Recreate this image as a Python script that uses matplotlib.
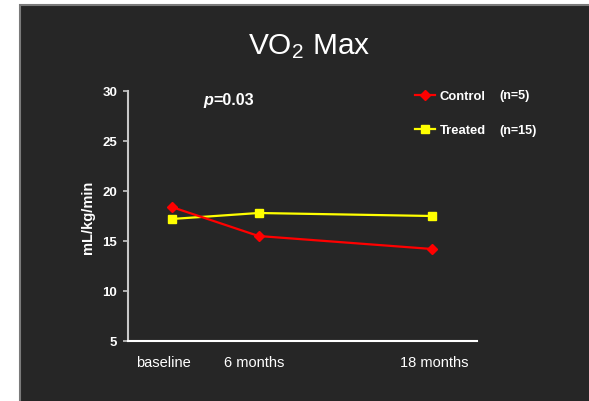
#!/usr/bin/env python3
"""VO2 Max over time, control vs treated"""

import matplotlib
matplotlib.use('Agg')
import matplotlib.pyplot as plt
import matplotlib.transforms as mtransforms
from matplotlib.patches import Rectangle

plt.rcParams['font.family'] = ['Liberation Sans', 'DejaVu Sans']
plt.rcParams['mathtext.fontset'] = 'custom'
plt.rcParams['mathtext.rm'] = 'Liberation Sans'
plt.rcParams['mathtext.it'] = 'Liberation Sans:italic'
plt.rcParams['mathtext.bf'] = 'Liberation Sans:bold'

# data
months = [0, 6, 18]
tick_labels = ['baseline', '6 months', '18 months']
control = [18.4, 15.5, 14.2]
treated = [17.2, 17.8, 17.5]
series_names = ['Control', 'Treated']
group_sizes = ['(n=5)', '(n=15)']
p_value = '0.03'

W, H = 589, 402
BG = '#262626'

fig = plt.figure(figsize=(W / 100, H / 100), dpi=100, facecolor='white')

# dark slide panel with grey top/left edge
fig.patches.append(Rectangle((20 / W, -0.1), 1.2, 1.1 - 6 / H, transform=fig.transFigure,
                             facecolor=BG, edgecolor='#7a7a7a', linewidth=1.5, zorder=-5))

ax = fig.add_axes([128 / W, 60 / H, 349 / W, 250 / H])
ax.set_facecolor('none')

ax.plot(months, control, color='#ff0000', lw=1.6, marker='D', ms=5.5,
        label=series_names[0], zorder=3)
ax.plot(months, treated, color='#ffff00', lw=1.6, marker='s', ms=6.2,
        label=series_names[1], zorder=2)

ax.set_xlim(-3.02, 21.1)
ax.set_ylim(5, 30)
ax.set_yticks([5, 10, 15, 20, 25, 30])
ax.set_xticks(months)
ax.set_xticklabels(tick_labels)

for s in ['top', 'right']:
    ax.spines[s].set_visible(False)
ax.spines['left'].set_color('#c8c8c8')
ax.spines['left'].set_linewidth(1.5)
ax.spines['bottom'].set_color('white')
ax.spines['bottom'].set_linewidth(1.5)

ax.tick_params(axis='y', colors='#c8c8c8', labelcolor='white', length=3.5, width=1.2,
               pad=4.3, labelsize=9.5)
for lab in ax.get_yticklabels():
    lab.set_fontweight('bold')
ax.tick_params(axis='x', length=0, pad=10.0, labelcolor='white', labelsize=10.5)

# nudge the category labels a little, as on the slide
shifts = [-8, -4, 2]
for lab, dx in zip(ax.get_xticklabels(), shifts):
    lab.set_transform(lab.get_transform() +
                      mtransforms.ScaledTranslation(dx / 100, 0, fig.dpi_scale_trans))

fig.text(88 / W, 1 - 217 / H, 'mL/kg/min', rotation=90, ha='center', va='center',
         color='white', fontsize=10.5, fontweight='bold')

fig.text(309 / W, 1 - 54.5 / H, r'VO$_2$ Max', ha='center', va='baseline',
         color='white', fontsize=21.5)

# p value: italic bold "p" followed by "=0.03"
ptxt = fig.text(203.5 / W, 1 - 105 / H, 'p', ha='left', va='baseline', color='white',
                fontsize=11.6, fontweight='bold', fontstyle='italic')
bb = ptxt.get_window_extent(renderer=fig.canvas.get_renderer())
fig.text(bb.x1 / W, 1 - 105 / H, '=' + p_value, ha='left', va='baseline', color='white',
         fontsize=11.6, fontweight='bold')

leg = ax.legend(loc='upper left', bbox_to_anchor=(415 / W, 1 - 91 / H),
                bbox_transform=fig.transFigure, frameon=False, borderpad=0,
                borderaxespad=0, handlelength=1.55, handletextpad=0.35,
                labelspacing=1.7, markerscale=0.85, prop={'weight': 'bold', 'size': 9.4})
for t in leg.get_texts():
    t.set_color('white')

fig.text(499 / W, 1 - 95.7 / H, group_sizes[0], ha='left', va='center', color='white',
         fontsize=9, fontweight='bold')
fig.text(499 / W, 1 - 131 / H, group_sizes[1], ha='left', va='center', color='white',
         fontsize=9, fontweight='bold')

fig.savefig('out.png', dpi=100, facecolor=fig.get_facecolor())
